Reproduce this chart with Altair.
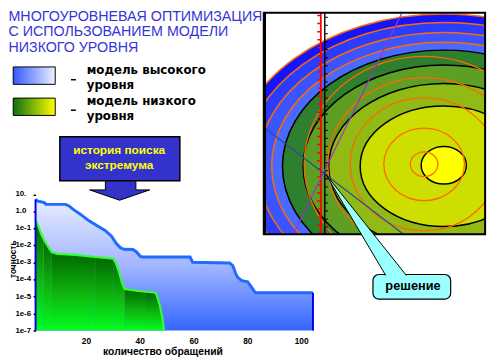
import altair as alt
import pandas as pd

# ---------------- values ----------------
# search history, high-level model: number of calls -> accuracy
hi_calls = [1.25, 1.74, 2.7, 4.5, 5.1, 12.45, 13.7, 15.5, 17.9, 21.0, 24.0, 27.1, 29.5, 31.3,
            32.9, 34.1, 37.4, 38.7, 40.2, 41.1, 58.7, 59.7, 73.4, 74.6, 75.6, 76.4, 78.0, 80.1,
            81.3, 82.5, 83.1, 104.4]
hi_acc = [5.1, 4.3, 3.8, 3.3, 2.6, 2.6, 2.1, 1.23, 0.69, 0.29, 0.148, 0.076, 0.035, 0.013,
          0.0072, 0.006, 0.0058, 0.0043, 0.0023, 0.0021, 0.0021, 0.00102, 0.00093, 0.00066,
          0.00024, 0.000135, 8.5e-5, 7.4e-5, 4.1e-5, 2.1e-5, 1.66e-5, 1.66e-5]
# search history, low-level model
lo_calls = [1.25, 1.74, 2.47, 3.3, 4.17, 5.15, 6.36, 7.33, 9.4, 16.1, 23.4, 30.1, 31.0, 32.2,
            33.4, 34.4, 39.3, 42.3, 45.9, 46.6, 47.5, 48.4, 49.0]
lo_acc = [0.29, 0.23, 0.117, 0.049, 0.025, 0.013, 0.0066, 0.0039, 0.0032, 0.0028, 0.0021,
          0.0017, 0.00102, 0.0003, 6.3e-5, 2.8e-5, 2.1e-5, 1.9e-5, 1.66e-5, 8.5e-6, 2.8e-6,
          5.9e-7, 1e-7]
lo_band_starts = [1.25, 4.17, 7.33, 23.4, 30.1, 34.4, 42.3]
acc_floor = 1e-7
acc_top = 10.8
acc_ticks = [10, 1, 1e-1, 1e-2, 1e-3, 1e-4, 1e-5, 1e-6, 1e-7]
acc_labels = ['10.', '1.0', '1e-1', '1e-2', '1e-3', '1e-4', '1e-5', '1e-6', '1e-7']
call_ticks = [20, 40, 60, 80, 100]

# contour levels of the map (horizontal semi-axes in px), outermost first
level_names = ['b1', 'b2', 'b3', 'b4', 'g1', 'g2', 'g3', 'g4', 'y']
level_semi = [215, 203, 189, 175, 164, 143, 117, 85, 23]
level_colors = ['#1414ff', '#2a3cff', '#3a55ff', '#4a6aff', '#2e7f2e', '#5e9e22',
                '#92ba14', '#cddf00', '#ffff00']
level_edge = ['orange'] * 4 + ['black'] * 5
level_form = ['wide'] * 8 + ['egg']
ring_semi = [122, 98, 75, 41, 14]

title_lines = ['МНОГОУРОВНЕВАЯ ОПТИМИЗАЦИЯ', 'С ИСПОЛЬЗОВАНИЕМ МОДЕЛИ', 'НИЗКОГО УРОВНЯ']
legend_lines = ['модель высокого\nуровня', 'модель низкого\nуровня']
callout_lines = ['история поиска', 'экстремума']
solution_label = 'решение'

# ---------------- layout (reference-picture pixels) ----------------
W, H = 282, 139
PAD = {'left': 28, 'top': 186, 'right': 182, 'bottom': 27}
px_scale = alt.Scale(domain=[0, 500], range=[-36, 464], nice=False, zero=False)
py_scale = alt.Scale(domain=[0, 360], range=[-194, 166], nice=False, zero=False)


def PX(f):
    return alt.X(f + ':Q', scale=px_scale, axis=None)


def PY(f):
    return alt.Y(f + ':Q', scale=py_scale, axis=None)


def ellipse_path(r):
    K = 0.5523
    return (f"M -1 0 C -1 {-r*K:.4f} {-K} {-r:.4f} 0 {-r:.4f} "
            f"C {K} {-r:.4f} 1 {-r*K:.4f} 1 0 "
            f"C 1 {r*K:.4f} {K} {r:.4f} 0 {r:.4f} "
            f"C {-K} {r:.4f} -1 {r*K:.4f} -1 0 Z")


size_scale = alt.Scale(type='pow', exponent=2, domain=[0, 250], range=[0, 250000])

# ---------------- contour map ----------------
map_center = (451, 166)
yellow_center = (451, 165)
ring_center = (431, 164)
ell_df = pd.DataFrame({
    'band': level_names,
    'a': level_semi,
    'edge': level_edge,
    'form': level_form,
    'cx': [map_center[0]] * 8 + [yellow_center[0]],
    'cy': [map_center[1]] * 8 + [yellow_center[1]],
    'rank': list(range(len(level_names))),
})
ellipses = alt.Chart(ell_df).mark_point(filled=True, opacity=1, fillOpacity=1, strokeWidth=1.5).encode(
    x=PX('cx'), y=PY('cy'),
    size=alt.Size('a:Q', scale=size_scale, legend=None),
    shape=alt.Shape('form:N', scale=alt.Scale(domain=['wide', 'egg'],
                                              range=[ellipse_path(0.72), ellipse_path(0.83)]), legend=None),
    fill=alt.Fill('band:N', scale=alt.Scale(domain=level_names, range=level_colors), legend=None),
    stroke=alt.Stroke('edge:N', scale=alt.Scale(domain=['orange', 'black'], range=['#ff6a00', '#000000']), legend=None),
    order=alt.Order('rank:Q'),
)
ring_df = pd.DataFrame({'a': ring_semi, 'cx': [ring_center[0]] * 5, 'cy': [ring_center[1]] * 5})
rings = alt.Chart(ring_df).mark_point(filled=False, opacity=1, stroke='#ff6a00', strokeWidth=1.3,
                                      shape=ellipse_path(0.9)).encode(
    x=PX('cx'), y=PY('cy'), size=alt.Size('a:Q', scale=size_scale, legend=None))


def seg_rule(rows, **kw):
    df = pd.DataFrame(rows, columns=['x1', 'y1', 'x2', 'y2'])
    return alt.Chart(df).mark_rule(**kw).encode(x=PX('x1'), y=PY('y1'), x2='x2:Q', y2='y2:Q')


red_line = seg_rule([(326, 10, 326, 235)], color='#ff0000', strokeWidth=1.8)
red_ticks = seg_rule([(323.8, 12, 323.8, 235)], color='#ff0000', strokeWidth=2.8, strokeDash=[1.5, 6.7])
blk_line = seg_rule([(330, 10, 330, 235)], color='#000000', strokeWidth=1.4)
blk_ticks = seg_rule([(331.8, 14, 331.8, 235)], color='#000000', strokeWidth=2.2, strokeDash=[1.3, 6.9])
purple = seg_rule([(408, 11, 298, 235)], color='#9933cc', strokeWidth=1.2)
blue_diag = seg_rule([(269, 127, 410, 235)], color='#1f4fa0', strokeWidth=1.2)


def rects(rows, **kw):
    df = pd.DataFrame(rows, columns=['x1', 'y1', 'x2', 'y2'])
    return alt.Chart(df).mark_rect(**kw).encode(x=PX('x1'), y=PY('y1'), x2='x2:Q', y2='y2:Q')


masks = rects([(0, 0, 268, 360), (0, 235, 500, 360), (0, 0, 500, 10), (493, 0, 500, 360)],
              fill='white', strokeWidth=0)
box = rects([(268, 10, 493, 235)], fill='white', fillOpacity=0, stroke='black', strokeWidth=2)
box_bar = rects([(267.3, 10, 270.3, 235)], fill='black', strokeWidth=0)

# ---------------- main chart ----------------
xs = alt.Scale(domain=[1.25, 104.4], nice=False, zero=False)
ys = alt.Scale(type='log', domain=[acc_floor, acc_top], nice=False)
x_axis = alt.Axis(values=call_ticks, ticks=False, domain=False, grid=False, labelFont='Liberation Sans',
                  labelFontWeight='bold', labelFontSize=8.5, labelColor='black', labelPadding=6,
                  labelOverlap=False,
                  title='количество обращений', titleFont='Liberation Sans', titleFontWeight='bold',
                  titleFontSize=10.5, titleColor='black', titleX=129, titleY=24.5,
                  titleAlign='center', titleBaseline='alphabetic', zindex=1)
y_axis = alt.Axis(values=acc_ticks, domain=False, grid=False, tickSize=2.5, tickWidth=1.5, tickColor='black',
                  labels=False,
                  title='точность', titleFont='Liberation Sans', titleFontWeight='bold', titleFontSize=8.5,
                  titleColor='black', titleX=-23.5, titleY=66, titleAngle=270, titleAlign='center',
                  titleBaseline='middle', zindex=1)

hi_df = pd.DataFrame({'x': hi_calls, 'y': hi_acc})
blue_grad = alt.LinearGradient(gradient='linear', x1=0, x2=0, y1=0, y2=1, stops=[
    alt.GradientStop(color='#e8edff', offset=0), alt.GradientStop(color='#a3b6ff', offset=0.5),
    alt.GradientStop(color='#3366ff', offset=1)])
blue_area = alt.Chart(hi_df).mark_area(color=blue_grad).encode(
    x=alt.X('x:Q', scale=xs, axis=x_axis), y=alt.Y('y:Q', scale=ys, axis=y_axis), y2=alt.datum(acc_floor))

rows = []
for i, start in enumerate(lo_band_starts):
    end = lo_band_starts[i + 1] if i + 1 < len(lo_band_starts) else lo_calls[-1]
    for cx, cy in zip(lo_calls, lo_acc):
        if start <= cx <= end:
            rows.append({'x': cx, 'y': cy, 'seg': i})
lo_seg_df = pd.DataFrame(rows)
green_grad = alt.LinearGradient(gradient='linear', x1=0, x2=0, y1=0, y2=1, stops=[
    alt.GradientStop(color='#006600', offset=0), alt.GradientStop(color='#0fb80f', offset=0.55),
    alt.GradientStop(color='#00ff22', offset=1)])
green_area = alt.Chart(lo_seg_df).mark_area(color=green_grad).encode(
    x=alt.X('x:Q', scale=xs, axis=None), y=alt.Y('y:Q', scale=ys, axis=None),
    y2=alt.datum(acc_floor), detail='seg:N')
lo_df = pd.DataFrame({'x': lo_calls, 'y': lo_acc})
green_line = alt.Chart(lo_df).mark_line(color='#33ff33', strokeWidth=2.2).encode(
    x=alt.X('x:Q', scale=xs, axis=None), y=alt.Y('y:Q', scale=ys, axis=None))
blue_line = alt.Chart(hi_df).mark_line(color='#1d6bff', strokeWidth=3).encode(
    x=alt.X('x:Q', scale=xs, axis=None), y=alt.Y('y:Q', scale=ys, axis=None))
edge_df = pd.DataFrame({'x': [hi_calls[0], hi_calls[-1]], 'y': [hi_acc[0], hi_acc[-1]]})
edges = alt.Chart(edge_df).mark_rule(color='#0000ee', strokeWidth=2).encode(
    x=alt.X('x:Q', scale=xs, axis=None), y=alt.Y('y:Q', scale=ys, axis=None), y2=alt.datum(acc_floor))

# y tick labels, placed through the accuracy scale
ylab_df = pd.DataFrame({'v': acc_ticks, 't': acc_labels, 'px': [15.5] * len(acc_ticks)})
ylabels = alt.Chart(ylab_df).mark_text(align='left', baseline='middle', font='Liberation Sans',
                                       fontWeight='bold', fontSize=8, color='black').encode(
    x=PX('px'), y=alt.Y('v:Q', scale=ys, axis=None), text='t:N')

# ---------------- texts and legend ----------------
def texts(lines, xs_, ys_, **kw):
    df = pd.DataFrame({'t': lines, 'px': xs_, 'py': ys_})
    return alt.Chart(df).mark_text(**kw).encode(x=PX('px'), y=PY('py'), text='t:N')


title_txt = texts(title_lines, [8.5] * 3, [18.5, 34, 50], align='left', baseline='alphabetic',
                  font='Liberation Sans', fontSize=14.5, color='#3535d5')
legend_txt = texts(legend_lines, [88] * 2, [72.5, 104], align='left', baseline='alphabetic',
                   font='DejaVu Sans', fontWeight='bold', fontSize=12, color='black',
                   lineBreak='\n', lineHeight=14.5)
swatch_hi = rects([(13.3, 65, 56, 82.7)], stroke='black', strokeWidth=1,
                  color=alt.LinearGradient(gradient='linear', x1=0, x2=1, y1=0, y2=0, stops=[
                      alt.GradientStop(color='#3358ff', offset=0), alt.GradientStop(color='#eef1ff', offset=1)]))
swatch_lo = rects([(13.3, 96.7, 56, 114.3)], stroke='black', strokeWidth=1,
                  color=alt.LinearGradient(gradient='linear', x1=0, x2=1, y1=0, y2=0, stops=[
                      alt.GradientStop(color='#0f6f0f', offset=0), alt.GradientStop(color='#ffff00', offset=1)]))
dashes = seg_rule([(72, 78, 77, 78), (72, 109, 77, 109)], color='black', strokeWidth=1.5)

# arrow callout
head_df = pd.DataFrame({'px': [91, 121.5, 152], 'py': [190, 190, 190], 'py2': [190, 200.5, 190]})
head = alt.Chart(head_df).mark_area(color='#3333cc', stroke='black', strokeWidth=1).encode(
    x=PX('px'), y=PY('py'), y2='py2:Q')
stem = rects([(107, 179, 138, 191)], fill='#3333cc', strokeWidth=0)
stem_edges = seg_rule([(107, 180, 107, 190), (138, 180, 138, 190)], color='black', strokeWidth=1)
arrow_box = rects([(60.7, 136, 182.7, 180.7)], fill='#3333cc', stroke='black', strokeWidth=1.5)
callout_txt = texts(callout_lines, [121, 121], [153.5, 168.3], align='center', baseline='alphabetic',
                    font='Liberation Sans', fontWeight='bold', fontSize=12, color='#ffff00')

# solution callout
sol_box = rects([(379, 276, 458, 301)], fill='#99ffff', stroke='black', strokeWidth=1.2, cornerRadius=6)
wedge_df = pd.DataFrame({'py': [174, 279], 'px': [331, 393.5], 'px2': [331, 414.5]})
wedge = alt.Chart(wedge_df).mark_area(orient='horizontal', color='#99ffff').encode(
    y=PY('py'), x=PX('px'), x2='px2:Q')
wedge_edges = seg_rule([(331, 174, 392, 277), (331, 174, 413, 277)], color='black', strokeWidth=1)
sol_txt = texts([solution_label], [419.7], [291.5], align='center', baseline='alphabetic',
                font='Liberation Sans', fontWeight='bold', fontSize=13, color='black')

chart = alt.layer(
    ellipses, rings, red_line, red_ticks, blk_line, blk_ticks, purple, blue_diag,
    masks, box, box_bar,
    blue_area, green_area, green_line, blue_line, edges, ylabels,
    title_txt, swatch_hi, swatch_lo, dashes, legend_txt,
    head, stem, stem_edges, arrow_box, callout_txt,
    sol_box, wedge, wedge_edges, sol_txt,
).resolve_scale(x='independent', y='independent').properties(
    width=W, height=H, padding=PAD, autosize=alt.AutoSizeParams(type='none'), background='white'
).configure_view(strokeWidth=0)

chart.save("out.html", embed_options={"renderer": "svg", "actions": False})
